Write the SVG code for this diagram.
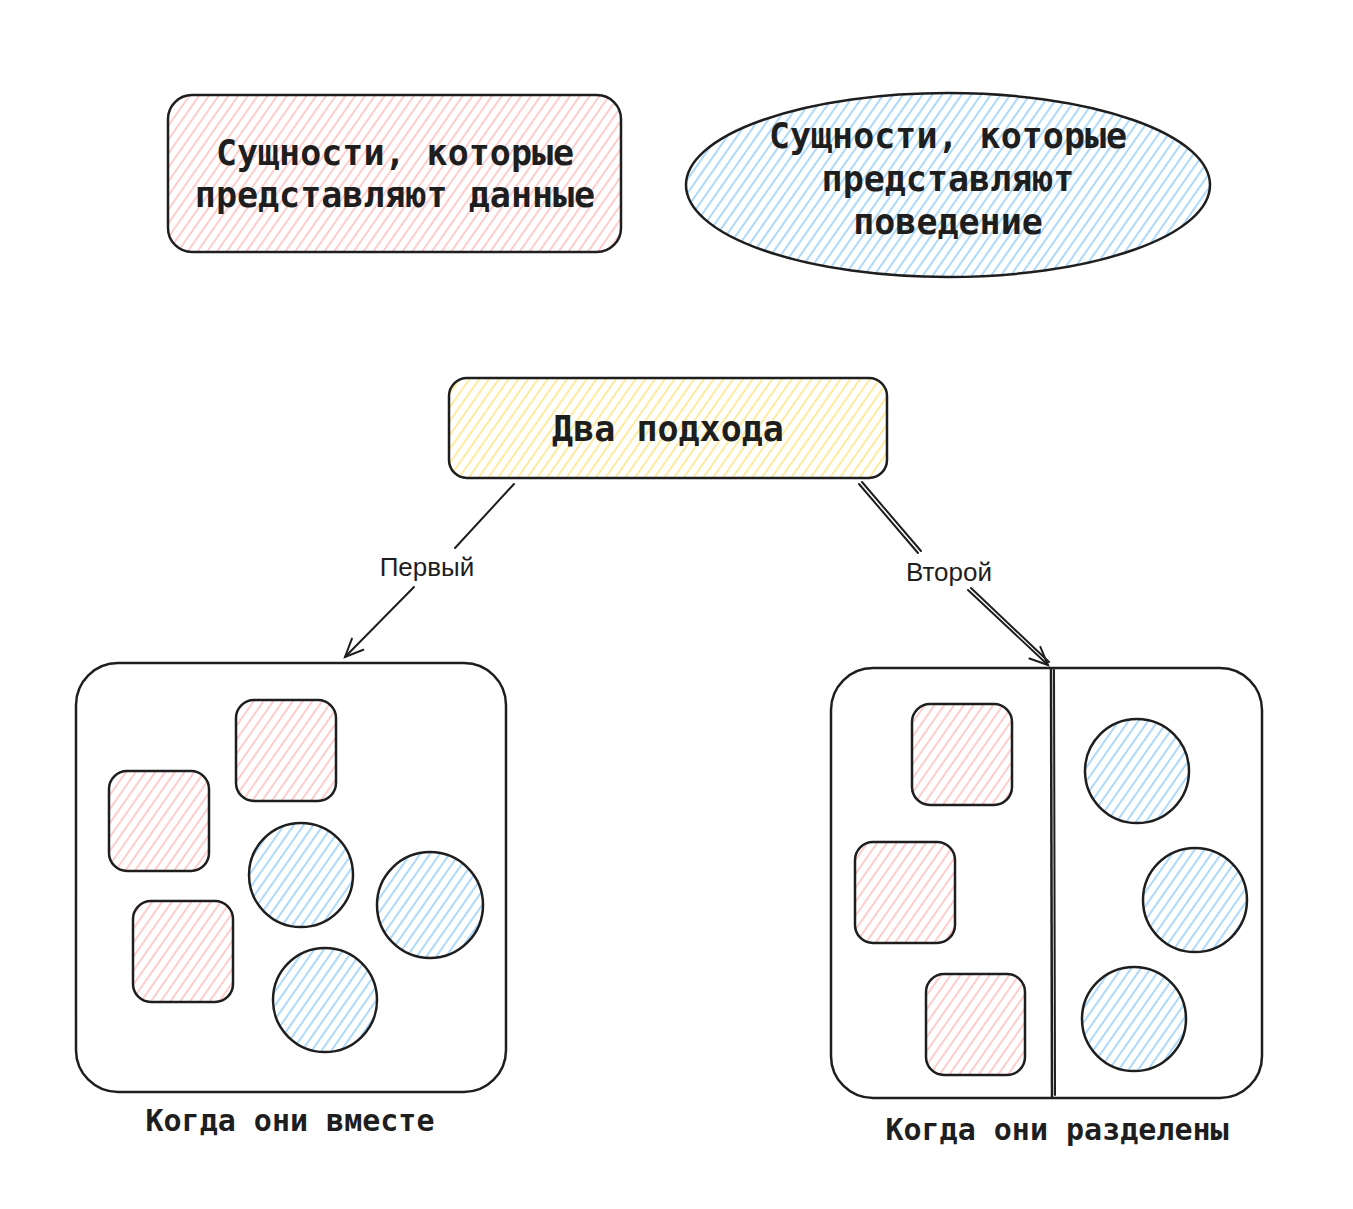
<svg xmlns="http://www.w3.org/2000/svg" width="1353" height="1209" viewBox="0 0 1353 1209">
<defs>
<pattern id="hPink" width="8" height="8" patternUnits="userSpaceOnUse" patternTransform="rotate(35)"><line x1="2" y1="0" x2="2" y2="8" stroke="#ffc0c0" stroke-width="1.6"/></pattern>
<pattern id="hBlue" width="8" height="8" patternUnits="userSpaceOnUse" patternTransform="rotate(35)"><line x1="2" y1="0" x2="2" y2="8" stroke="#99d0fb" stroke-width="1.6"/></pattern>
<pattern id="hYellow" width="8" height="8" patternUnits="userSpaceOnUse" patternTransform="rotate(35)"><line x1="2" y1="0" x2="2" y2="8" stroke="#ffe685" stroke-width="1.6"/></pattern>
<marker id="arr" markerWidth="24" markerHeight="24" refX="20" refY="12" orient="auto" markerUnits="userSpaceOnUse"><path d="M2,4 L20,12 L2,20" fill="none" stroke="#1e1e1e" stroke-width="2" stroke-linecap="round"/></marker>
</defs>
<style>
.sk{stroke:#1e1e1e;stroke-width:2.5;stroke-linejoin:round}
.txt{font-family:"DejaVu Sans Mono","Liberation Mono",monospace;font-weight:bold;fill:#1e1e1e;text-anchor:middle}
.big{font-size:35px}
.cap{font-size:30px}
.lbl{font-family:"Liberation Sans","DejaVu Sans",sans-serif;font-size:26px;fill:#1e1e1e;text-anchor:middle}
.ln{stroke:#1e1e1e;stroke-width:2;fill:none;stroke-linecap:round}
</style>
<rect width="1353" height="1209" fill="#ffffff"/>

<g id="data-entities">
<rect class="sk" x="168" y="95" width="453" height="157" rx="24" fill="url(#hPink)"/>
<text class="txt big" x="395" y="165">Сущности, которые</text>
<text class="txt big" x="395" y="207">представляют данные</text>
</g>

<g id="behavior-entities">
<ellipse class="sk" cx="948" cy="185" rx="262" ry="92" fill="url(#hBlue)"/>
<text class="txt big" x="948" y="148">Сущности, которые</text>
<text class="txt big" x="948" y="191">представляют</text>
<text class="txt big" x="948" y="234">поведение</text>
</g>

<g id="two-approaches">
<rect class="sk" x="449" y="378" width="438" height="100" rx="18" fill="url(#hYellow)"/>
<text class="txt big" x="668" y="441">Два подхода</text>
</g>

<g id="connectors">
<line class="ln" x1="514" y1="484" x2="455" y2="548"/>
<line class="ln" x1="414" y1="587" x2="345" y2="657" marker-end="url(#arr)"/>
<line class="ln" x1="859" y1="484" x2="918" y2="553"/>
<line class="ln" x1="862" y1="482" x2="921" y2="551"/>
<line class="ln" x1="968" y1="590" x2="1048" y2="665" marker-end="url(#arr)"/>
<line class="ln" x1="971" y1="588" x2="1049" y2="662"/>
<text class="lbl" x="427" y="576">Первый</text>
<text class="lbl" x="949" y="581">Второй</text>
</g>

<g id="together">
<rect class="sk" x="76" y="663" width="430" height="429" rx="42" fill="none"/>
<rect class="sk" x="236" y="700" width="100" height="101" rx="18" fill="url(#hPink)"/>
<rect class="sk" x="109" y="771" width="100" height="100" rx="18" fill="url(#hPink)"/>
<rect class="sk" x="133" y="901" width="100" height="101" rx="18" fill="url(#hPink)"/>
<circle class="sk" cx="301" cy="875" r="52" fill="url(#hBlue)"/>
<circle class="sk" cx="430" cy="905" r="53" fill="url(#hBlue)"/>
<circle class="sk" cx="325" cy="1000" r="52" fill="url(#hBlue)"/>
<text class="txt cap" x="290" y="1131">Когда они вместе</text>
</g>

<g id="separated">
<rect class="sk" x="831" y="668" width="431" height="430" rx="42" fill="none"/>
<line class="sk" x1="1051" y1="668" x2="1052" y2="1097"/>
<line class="ln" x1="1054" y1="670" x2="1055" y2="1095" stroke-width="1.5"/>
<rect class="sk" x="912" y="704" width="100" height="101" rx="18" fill="url(#hPink)"/>
<rect class="sk" x="855" y="842" width="100" height="101" rx="18" fill="url(#hPink)"/>
<rect class="sk" x="926" y="974" width="99" height="101" rx="18" fill="url(#hPink)"/>
<circle class="sk" cx="1137" cy="771" r="52" fill="url(#hBlue)"/>
<circle class="sk" cx="1195" cy="900" r="52" fill="url(#hBlue)"/>
<circle class="sk" cx="1134" cy="1019" r="52" fill="url(#hBlue)"/>
<text class="txt cap" x="1057" y="1140">Когда они разделены</text>
</g>
</svg>
